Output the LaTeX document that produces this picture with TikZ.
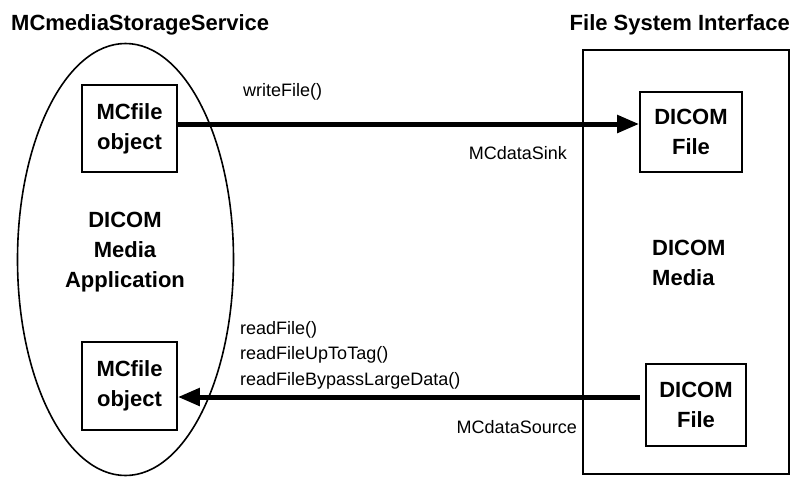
\documentclass[tikz,border=0pt]{standalone}
\usepackage{fontspec}
\setmainfont{Liberation Sans}
\usetikzlibrary{shapes.geometric,arrows.meta}
\begin{document}
\begin{tikzpicture}[x=1pt,y=-1pt,
  bold/.style={font=\bfseries\fontsize{22}{30}\selectfont,align=center,inner sep=0pt},
  lbl/.style={font=\fontsize{18}{25.5}\selectfont,align=left,inner sep=0pt},
  objbox/.style={draw,line width=1.6pt,inner sep=0pt,bold},
  thick arrow/.style={line width=5pt,-{Triangle[length=22pt,width=17pt]}}
]
\useasboundingbox (0,0) rectangle (792,477);
% titles
\node[bold,anchor=west] (t1) at (11,25) {MCmediaStorageService};
\node[bold,anchor=east] (t2) at (790,25) {File System Interface};
% left ellipse
\node[draw,ellipse,line width=1.6pt,minimum width=216pt,minimum height=432pt,inner sep=0pt] (app) at (125.5,259.5) {};
\node[bold] (applbl) at (125,252) {DICOM\\Media\\Application};
\node[objbox,minimum width=95pt,minimum height=87pt] (obj1) at (129.5,128.5) {MCfile\\object};
\node[objbox,minimum width=95pt,minimum height=88pt] (obj2) at (129.5,386) {MCfile\\object};
% right box
\node[draw,line width=1.6pt,minimum width=206pt,minimum height=424pt,inner sep=0pt] (fsi) at (686,262) {};
\node[bold,align=left,anchor=west] (medlbl) at (652,262.5) {DICOM\\Media};
\node[objbox,minimum width=102pt,minimum height=80pt] (file1) at (691,132) {DICOM\\File};
\node[objbox,minimum width=100pt,minimum height=82pt] (file2) at (696,405) {DICOM\\File};
% connectors
\draw[thick arrow] ([yshift=4.5pt]obj1.east) -- ([yshift=4.5pt]obj1.east -| file1.west);
\draw[thick arrow] ([yshift=8pt,xshift=-5pt]file2.west) -- ([yshift=8pt]file2.west -| obj2.east);
% labels
\node[lbl,anchor=west] (wf) at (243,92) {writeFile()};
\node[lbl,anchor=east] (sink) at (567,153) {MCdataSink};
\node[lbl,anchor=west] (rf) at (240,355) {readFile()\\readFileUpToTag()\\readFileBypassLargeData()};
\node[lbl,anchor=east] (src) at (577,427) {MCdataSource};
\end{tikzpicture}
\end{document}
